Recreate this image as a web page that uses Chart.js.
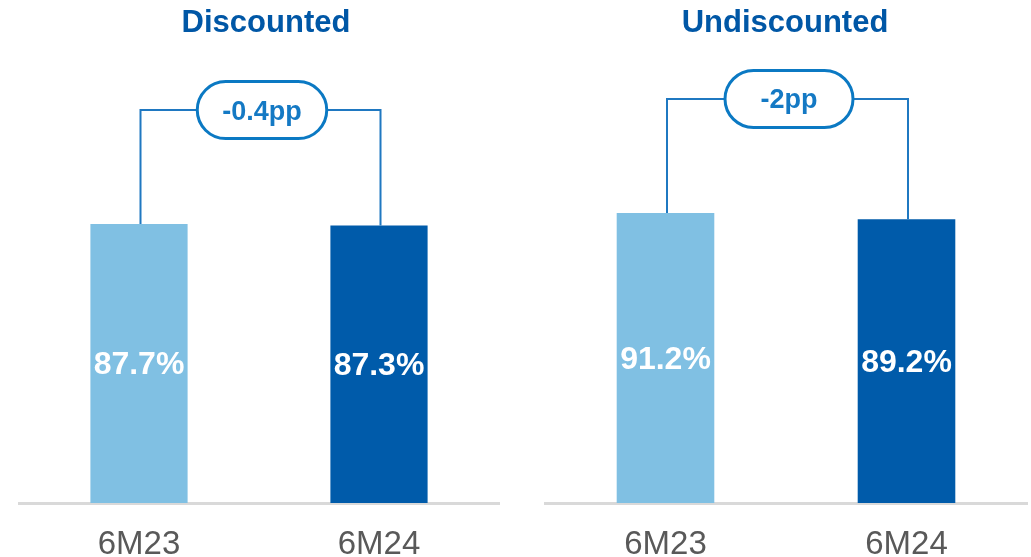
<!DOCTYPE html>
<html>
<head>
<meta charset="utf-8">
<script src="https://cdn.jsdelivr.net/npm/chart.js@4"></script>
<style>
  html, body { margin: 0; padding: 0; background: #fff; }
  body { width: 1031px; height: 557px; position: relative; overflow: hidden; }
  .panel { position: absolute; top: 0; height: 557px; }
</style>
</head>
<body>
<div class="panel" style="left:0;width:520px"><canvas id="discChart"></canvas></div>
<div class="panel" style="left:520px;width:511px"><canvas id="undiscChart"></canvas></div>
<script>
// Data
const periods      = ["6M23", "6M24"];
const discounted   = [87.7, 87.3];
const undiscounted = [91.2, 89.2];
const panelTitles  = ["Discounted", "Undiscounted"];
const changeLabels = ["-0.4pp", "-2pp"];

const FONT = '"Liberation Sans", Arial, sans-serif';
const barColors = ["#80C0E3", "#005BAA"];

// Draws title, value labels, bracket and change pill
const annotPlugin = {
    id: 'annot',
    afterDatasetsDraw(chart, args, opts) {
        const ctx  = chart.ctx;
        const meta = chart.getDatasetMeta(0);
        const vals = chart.data.datasets[0].data;
        ctx.save();

        // title
        ctx.font = 'bold 31px ' + FONT;
        ctx.fillStyle = '#0057A6';
        ctx.textAlign = 'center';
        ctx.textBaseline = 'middle';
        ctx.fillText(opts.title, opts.titleX, 23);

        // values inside bars
        ctx.font = 'bold 32px ' + FONT;
        ctx.fillStyle = '#ffffff';
        meta.data.forEach((bar, i) => {
            ctx.fillText(vals[i].toFixed(1) + '%', bar.x, (bar.y + bar.base) / 2 + 2);
        });

        // bracket
        const a = meta.data[0], b = meta.data[1];
        const yLine = Math.min(a.y, b.y) - 114;
        ctx.strokeStyle = '#1F78C1';
        ctx.lineWidth = 2;
        ctx.beginPath();
        ctx.moveTo(a.x + 1.5, a.y);
        ctx.lineTo(a.x + 1.5, yLine);
        ctx.lineTo(b.x + 1.5, yLine);
        ctx.lineTo(b.x + 1.5, b.y);
        ctx.stroke();

        // pill
        ctx.font = 'bold 27px ' + FONT;
        const tw = ctx.measureText(opts.change).width;
        const w = Math.max(tw + 50, 128), h = 57;
        const cx = (a.x + b.x) / 2 + 3;
        ctx.beginPath();
        ctx.roundRect(cx - w / 2, yLine - h / 2, w, h, h / 2);
        ctx.fillStyle = '#ffffff';
        ctx.fill();
        ctx.lineWidth = 3;
        ctx.strokeStyle = '#0B79C3';
        ctx.stroke();
        ctx.fillStyle = '#1479C4';
        ctx.fillText(opts.change, cx, yLine + 2);

        ctx.restore();
    }
};

function makePanel(canvasId, values, title, change, pad, titleX) {
    return new Chart(document.getElementById(canvasId), {
        type: 'bar',
        data: {
            labels: periods,
            datasets: [{
                data: values,
                backgroundColor: barColors,
                borderWidth: 0,
                barPercentage: 0.405,
                categoryPercentage: 1
            }]
        },
        options: {
            responsive: true,
            maintainAspectRatio: false,
            animation: false,
            layout: { padding: { top: 185, left: pad.left, right: pad.right, bottom: 0 } },
            plugins: {
                legend: { display: false },
                tooltip: { enabled: false },
                annot: { title: title, change: change, titleX: titleX }
            },
            scales: {
                x: {
                    grid: { display: false, drawTicks: false },
                    border: { display: true, color: '#D9D9D9', width: 3 },
                    ticks: { color: '#595959', font: { family: FONT, size: 33 }, padding: 22 },
                    afterFit: s => { s.height = 54; }
                },
                y: { display: false, min: 0, max: 100 }
            }
        },
        plugins: [annotPlugin]
    });
}

makePanel('discChart',   discounted,   panelTitles[0], changeLabels[0], { left: 19, right: 21 }, 266);
makePanel('undiscChart', undiscounted, panelTitles[1], changeLabels[1], { left: 25, right: 4 },  265);
</script>
</body>
</html>
